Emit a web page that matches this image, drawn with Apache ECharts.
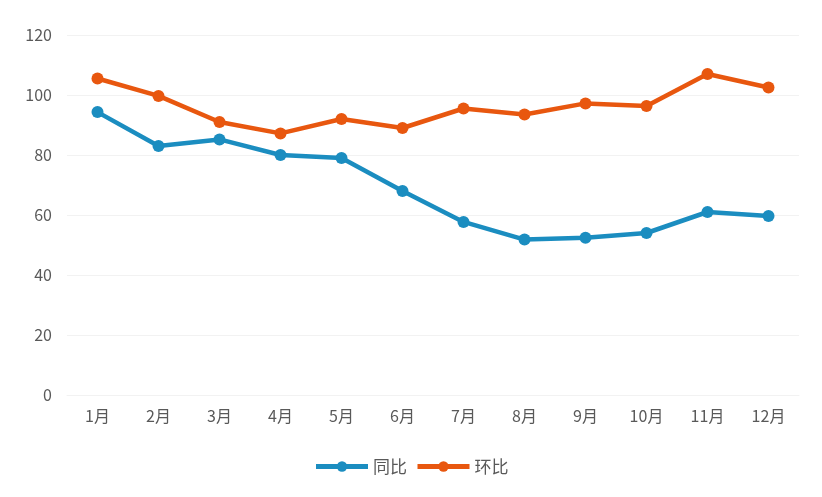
<!DOCTYPE html>
<html><head><meta charset="utf-8">
<script src="https://cdn.jsdelivr.net/npm/echarts@6/dist/echarts.min.js"></script>
<style>html,body{margin:0;padding:0;background:#fff}#c{width:822px;height:497px}</style>
</head><body><div id="c"></div>
<script>
const categories = ['1月','2月','3月','4月','5月','6月','7月','8月','9月','10月','11月','12月'];
const yoy = [94.3, 83, 85.2, 80, 79, 68, 57.7, 51.8, 52.4, 54, 61, 59.7];
const mom = [105.5, 99.7, 91, 87.2, 92, 89, 95.5, 93.5, 97.2, 96.3, 107, 102.5];
const yTicks = [0, 20, 40, 60, 80, 100, 120];

const chart = echarts.init(document.getElementById('c'));
const font = '"Microsoft YaHei","Noto Sans CJK SC","DejaVu Sans",sans-serif';
chart.setOption({
  backgroundColor: '#fff',
  animation: false,
  grid: {left: 67, right: 23, top: 35, bottom: 102},
  legend: {
    bottom: 17, left: 'center', itemWidth: 52, itemHeight: 13, itemGap: 8,
    lineStyle: {width: 5},
    textStyle: {color: '#595959', fontSize: 17, fontFamily: font},
    data: ['同比', '环比']
  },
  xAxis: {
    type: 'category', data: categories, boundaryGap: true,
    axisLine: {show: true, lineStyle: {color: '#f2f2f2'}},
    axisTick: {show: false},
    axisLabel: {color: '#595959', fontSize: 16, fontFamily: font, margin: 13}
  },
  yAxis: {
    type: 'value', min: yTicks[0], max: yTicks[yTicks.length-1], interval: 20,
    axisLine: {show: false}, axisTick: {show: false},
    axisLabel: {color: '#595959', fontSize: 16, fontFamily: font, margin: 15},
    splitLine: {lineStyle: {color: '#f2f2f2', width: 1}}
  },
  series: [
    {name: '同比', type: 'line', data: yoy, symbol: 'circle', symbolSize: 12,
     color: '#1B8DC0', lineStyle: {width: 4.5, color: '#1B8DC0'}, itemStyle: {color: '#1B8DC0'}},
    {name: '环比', type: 'line', data: mom, symbol: 'circle', symbolSize: 12,
     color: '#E8570F', lineStyle: {width: 4.5, color: '#E8570F'}, itemStyle: {color: '#E8570F'}}
  ]
});
</script></body></html>
